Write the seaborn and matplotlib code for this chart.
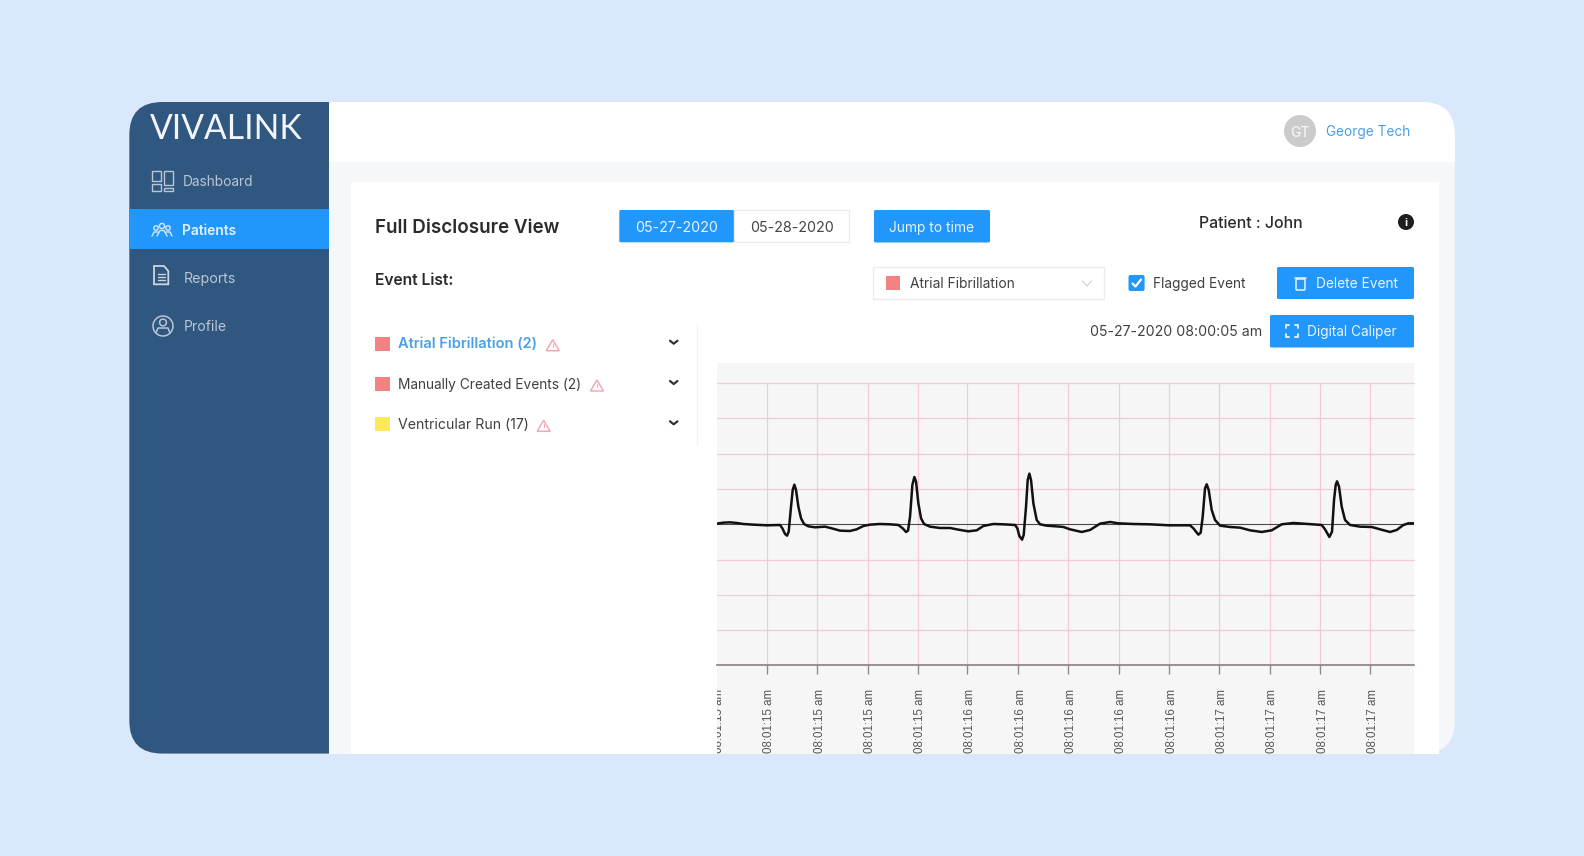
import matplotlib
matplotlib.use("Agg")
import matplotlib.pyplot as plt
import seaborn as sns
from matplotlib.patches import Circle, FancyBboxPatch, Polygon, Rectangle
from matplotlib.transforms import Bbox, ScaledTranslation

# --- data ---
ecg_time = [0, 20, 40, 60, 80, 110, 150, 190, 197, 205, 211, 216, 222, 228, 233, 238, 245, 253, 262, 275,
            295, 325, 345, 370, 400, 420, 440, 460, 490, 520, 545, 558, 568, 574, 580, 587, 593, 598, 605, 613,
            622, 640, 670, 700, 725, 755, 780, 800, 830, 860, 895, 902, 908, 916, 921, 928, 933, 938, 943, 950,
            960, 970, 990, 1030, 1040, 1060, 1095, 1120, 1150, 1180, 1205, 1250, 1300, 1357, 1420, 1430, 1445, 1452, 1458, 1465,
            1470, 1476, 1485, 1495, 1510, 1540, 1570, 1600, 1635, 1665, 1695, 1730, 1760, 1815, 1825, 1838, 1846, 1852, 1857, 1861,
            1867, 1875, 1885, 1900, 1930, 1965, 1990, 2020, 2040, 2060, 2075, 2092]
ecg_amp = [2, 5, 6, 4, 1, -1, -3, -2, -12, -29, -34, -22, 43, 103, 119, 103, 53, 18, 1, -6,
           -9, -7, -12, -19, -20, -15, -5, -1, 1, 0, -2, -12, -23, -19, 23, 118, 142, 128, 63, 18,
           1, -7, -11, -11, -16, -21, -18, -5, 1, 0, -2, -12, -35, -46, -32, 53, 133, 152, 133, 63,
           13, 0, -4, -7, -8, -15, -23, -17, 2, 7, 3, 1, 0, -3, -3, -12, -31, -25, 23, 108,
           120, 103, 43, 13, -4, -8, -10, -18, -23, -18, 0, 4, 2, -2, -15, -38, -22, 73, 118, 129,
           113, 53, 13, -2, -7, -8, -15, -23, -17, -2, 3, 3]
tick_pos = [0, 150, 301, 453, 603, 752, 904, 1055, 1206, 1357, 1507, 1659, 1811, 1961]
tick_labels = ["08:01:15 am"] * 5 + ["08:01:16 am"] * 5 + ["08:01:17 am"] * 4
grid_amp = [-318, -212, -106, 106, 212, 318, 423]

menu_items = ["Dashboard", "Patients", "Reports", "Profile"]
event_names = ["Atrial Fibrillation (2)", "Manually Created Events (2)", "Ventricular Run (17)"]
event_colors = ["#F28382", "#F28382", "#FFE95A"]
dates = ["05-27-2020", "05-28-2020"]

BLUE = "#2196FB"
SIDE = "#30577F"
PAGE = "#DAE8FE"
GREY_TXT = "#3A3A3A"
MENU_TXT = "#B9C6D4"

sns.set_theme(style="white")
plt.rcParams["font.family"] = ["Inter", "DejaVu Sans"]

fig = plt.figure(figsize=(15.84, 8.56), dpi=100, facecolor=PAGE)
ui = fig.add_axes([0, 0, 1, 1])
ui.set_xlim(0, 1584)
ui.set_ylim(856, 0)
ui.axis("off")


def box(x0, y0, x1, y1, color, edge="none", lw=0, r=0, **kw):
    if r:
        p = FancyBboxPatch((x0 + r, y0 + r), x1 - x0 - 2 * r, y1 - y0 - 2 * r,
                           boxstyle=f"round,pad={r},rounding_size={r}",
                           fc=color, ec=edge, lw=lw, **kw)
    else:
        p = Rectangle((x0, y0), x1 - x0, y1 - y0, fc=color, ec=edge, lw=lw, **kw)
    ui.add_patch(p)
    return p


def label(x, y, s, px=14.5, color=GREY_TXT, weight="normal", ha="left", **kw):
    ui.text(x, y, s, fontsize=px * 0.72, color=color, weight=weight, ha=ha, va="center_baseline", **kw)


def stroke(xs, ys, color, lw=1.2):
    ui.plot(xs, ys, color=color, lw=lw, solid_capstyle="round", solid_joinstyle="round")


def warn(x, y):
    ui.add_patch(Polygon([(x - 6.5, y + 5.5), (x, y - 5.5), (x + 6.5, y + 5.5)], closed=True,
                         fc="none", ec="#F0A9B4", lw=1.1))
    stroke([x, x], [y - 1.5, y + 1.5], "#F0A9B4", 0.8)


# card and page sections
card = box(129.3, 102, 1454.7, 753.6, "white", r=33)
band = box(329, 161.6, 1454.7, 753.6, "#F5F7F9")
band.set_clip_path(card)
sheet = box(350.5, 182, 1438.6, 753.6, "white")
side = box(129.3, 102, 329, 753.6, SIDE)
side.set_clip_path(card)
top = box(329, 102, 1454.7, 161.6, "white")
top.set_clip_path(card)

# sidebar
ui.text(149.5, 126, "VIVALINK", fontsize=24.2, color="#F2F6FA", family="Lato", weight="normal",
        ha="left", va="center_baseline")
box(129.3, 209.3, 329, 249.3, BLUE)
menu_xy = [(182.4, 180.5), (182.4, 229.3), (184, 277.6), (184, 325.6)]
menu_px = [13.7, 13.8, 14.2, 14.0]
for name, (mx, my), px in zip(menu_items, menu_xy, menu_px):
    active = name == "Patients"
    label(mx, my, name, px, "#E2F1FF" if active else MENU_TXT, "semibold" if active else "normal")

# menu icons
for rx0, ry0, rx1, ry1 in [(152, 171, 161, 181), (164, 171, 172.5, 185), (152, 184, 161, 191), (164, 188, 172.5, 191)]:
    box(rx0, ry0, rx1, ry1, "none", edge=MENU_TXT, lw=1)
for cx, cy, rr in [(156, 228, 2.2), (162, 226, 2.6), (168, 228, 2.2)]:
    ui.add_patch(Circle((cx, cy), rr, fc="none", ec="#D5E9FB", lw=1))
stroke([152, 154, 158], [236, 232, 232], "#D5E9FB", 1)
stroke([157, 160, 164, 167], [236, 230.5, 230.5, 236], "#D5E9FB", 1)
stroke([166, 170, 172], [232, 232, 236], "#D5E9FB", 1)
ui.add_patch(Polygon([(154, 266), (164, 266), (168.3, 271), (168.3, 284.3), (154, 284.3)], closed=True,
                     fc="none", ec="#CBD6E1", lw=1.3))
for ly in [274, 277, 280]:
    stroke([157.5, 165], [ly, ly], "#CBD6E1", 1)
ui.add_patch(Circle((163, 326), 10, fc="none", ec=MENU_TXT, lw=1.1))
ui.add_patch(Circle((163, 322.5), 3.4, fc="none", ec=MENU_TXT, lw=1.1))
stroke([156, 158, 168, 170], [333, 328, 328, 333], MENU_TXT, 1.1)

# header
ui.add_patch(Circle((1300, 131), 16, fc="#CBCBCB", ec="none"))
label(1300, 131, "GT", 14, "#F4F4F4", "medium", ha="center")
label(1326, 130.5, "George Tech", 13.6, "#4A9FE6")

# top controls
label(375, 226, "Full Disclosure View", 18.8, "#2B2B2B", "semibold")
box(619.3, 210, 734.3, 242.3, BLUE, r=1.5)
box(734.3, 210, 849.3, 242.3, "white", edge="#ECECEC", lw=1)
label(676.8, 226.5, dates[0], 14.3, "#E8F4FF", ha="center")
label(791.8, 226.5, dates[1], 14.3, "#444444", ha="center")
box(874, 210, 990, 242.5, BLUE, r=1.5)
label(932, 226.5, "Jump to time", 13.8, "#E8F4FF", ha="center")
label(1199, 222, "Patient : John", 15.9, "#2B2B2B", "medium")
ui.add_patch(Circle((1406, 222), 8, fc="#1E1E1E", ec="none"))
label(1406, 222, "i", 11, "white", "bold", ha="center")

# event list
label(375, 279, "Event List:", 15.6, "#2B2B2B", "semibold")
event_y = [343.7, 384, 424.3]
warn_x = [552.7, 597, 543.7]
event_px = [14.6, 13.7, 14.1]
for i, name in enumerate(event_names):
    box(375, event_y[i] - 7, 389.5, event_y[i] + 7, event_colors[i])
    label(398, event_y[i] - 1, name, event_px[i], "#4A9FE6" if i == 0 else "#404040", "semibold" if i == 0 else "normal")
    warn(warn_x[i], event_y[i] + 1.5)
    stroke([670, 673.7, 677.5], [event_y[i] - 3, event_y[i], event_y[i] - 3], "#333333", 1.6)
stroke([696.7, 696.7], [325, 445], "#F3F3F3", 1)

# filter row
box(873, 267, 1104, 299, "white", edge="#ECECEC", lw=1)
box(886, 276, 899.5, 290, event_colors[0])
label(910.5, 283, "Atrial Fibrillation", 13.8, "#404040")
stroke([1082.5, 1087, 1091.5], [281, 286, 281], "#D8D8D8", 1)
box(1128.5, 275, 1144.6, 291, BLUE, r=2)
stroke([1132.5, 1135.5, 1141], [283.5, 286.5, 279.5], "white", 1.6)
label(1153, 282.5, "Flagged Event", 13.7, "#404040")
box(1277, 267, 1414, 299, BLUE, r=1.5)
label(1316, 283, "Delete Event", 13.7, "#E8F4FF")
box(1296, 279, 1305, 290, "none", edge="#E8F4FF", lw=1.1, r=1)
stroke([1295, 1306], [278, 278], "#E8F4FF", 1.1)
label(1090, 330, "05-27-2020 08:00:05 am", 14.1, "#404040")
box(1270, 315, 1414, 347.5, BLUE, r=1.5)
label(1307, 330.5, "Digital Caliper", 13.7, "#E8F4FF")
for sx, sy in [(1286, 325), (1298, 325), (1286, 337), (1298, 337)]:
    dx = 3 if sx < 1290 else -3
    dy = 3 if sy < 330 else -3
    stroke([sx + dx, sx, sx], [sy, sy, sy + dy], "#E8F4FF", 1.3)

# ecg panel
box(716.7, 363, 1414, 753.6, "#F6F6F6")

ax = fig.add_axes([716.7 / 1584, (856 - 665) / 856, 697.5 / 1584, 281.7 / 856])
ax.patch.set_alpha(0)
sns.lineplot(x=ecg_time, y=ecg_amp, sort=False, estimator=None, color="#111111", linewidth=1.8, ax=ax, zorder=5)
ax.set_xlim(0, 2092.5)
ax.set_ylim(-422, 423)
ax.set_xticks(tick_pos)
ax.set_xticklabels(tick_labels, rotation=90, fontsize=8.3, family="Liberation Sans", color="#555555", va="top")
ax.set_yticks(grid_amp)
ax.set_yticklabels([])
ax.tick_params(axis="x", length=6.5, width=1, color="#8B8B8B", pad=11, bottom=True)
ax.tick_params(axis="y", length=0)
ax.grid(True, color="#F4C9D1", linewidth=0.9)
for ln in ax.get_ygridlines() + ax.get_xgridlines():
    ln.set_clip_on(False)
# the left edge has a label but no tick or grid line
ax.get_xgridlines()[0].set_visible(False)
ax.xaxis.get_major_ticks()[0].tick1line.set_visible(False)
ax.axhline(0, color="#4A4A4A", linewidth=0.8, zorder=4)
sns.despine(ax=ax, left=True, top=True, right=True)
ax.spines["bottom"].set_color("#8A7F80")
ax.spines["bottom"].set_linewidth(1.2)

# labels are cut off by the panel edge and the bottom of the card
clip = Bbox([[716.7, 856 - 753.6], [1414, 856 - 670]])
nudge = ScaledTranslation(2.5 / 100, 0, fig.dpi_scale_trans)
for lab in ax.get_xticklabels():
    lab.set_transform(lab.get_transform() + nudge)
    lab.set_clip_box(clip)
    lab.set_clip_on(True)

fig.savefig("out.png", dpi=100, facecolor=fig.get_facecolor())
